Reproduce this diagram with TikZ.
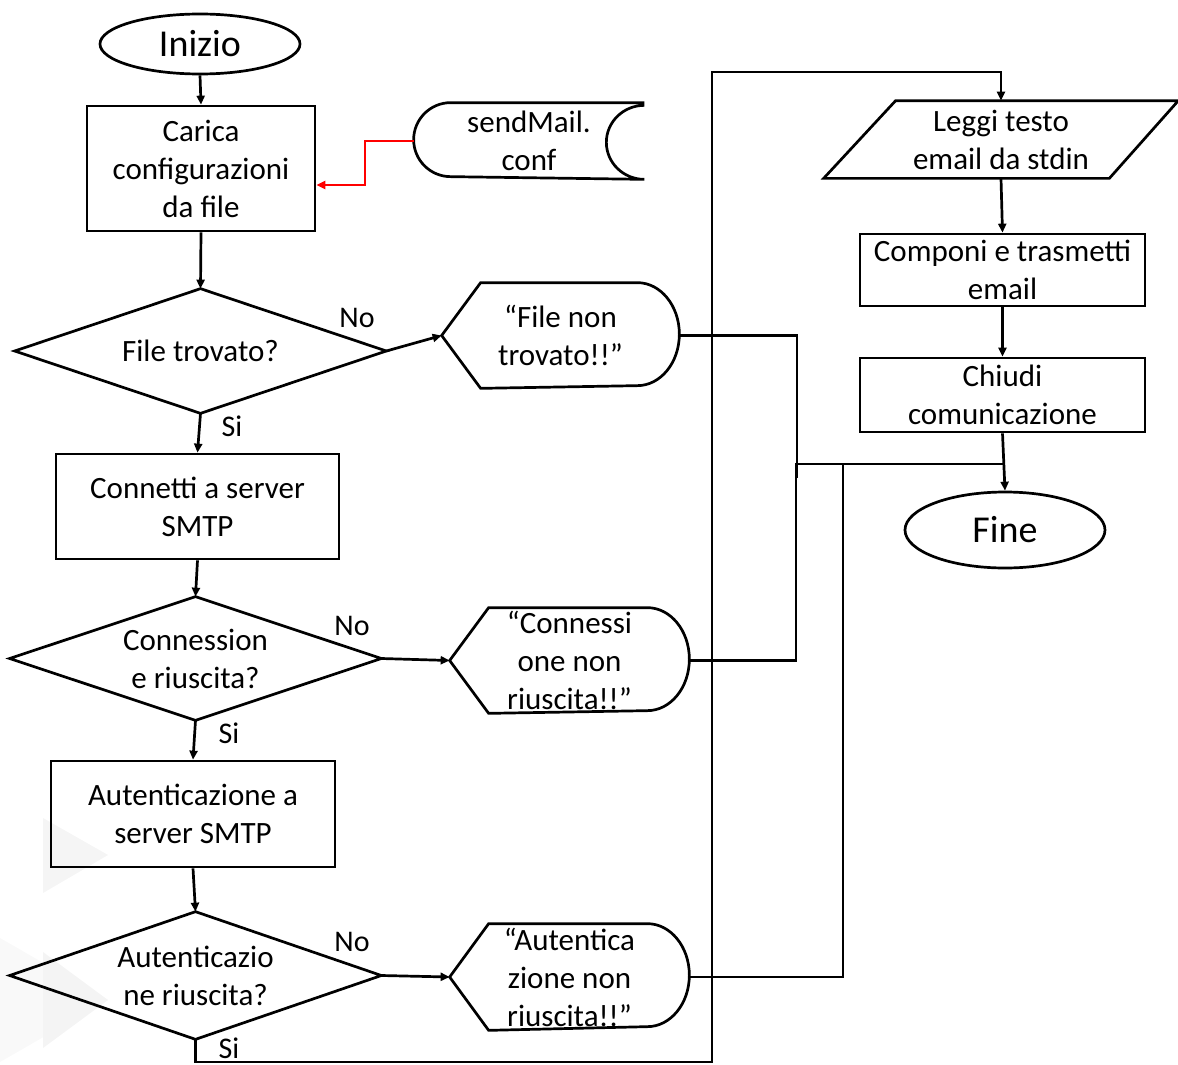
\documentclass[tikz,border=0pt]{standalone}
\usepackage{fontspec}
\setmainfont{Carlito}
\usetikzlibrary{shapes.geometric,arrows.meta,calc}

% outline of a "display" symbol around a plain node
\newcommand\dispout[1]{%
  \draw (#1.west) -- ([xshift=39pt]#1.north west) -- ([xshift=-42pt]#1.north east)
    arc[start angle=90,end angle=-90,x radius=42pt,y radius=51.5pt]
    -- ([xshift=39pt]#1.south west) -- cycle;}
% outline of a decision diamond around a plain node
\newcommand\decout[1]{%
  \draw (#1.west) -- (#1.north) -- (#1.east) -- (#1.south) -- cycle;}

\begin{document}
\begin{tikzpicture}[x=1pt,y=-1pt,line width=2.7pt,
  base/.style={inner sep=0pt,align=center,font=\fontsize{31}{38}\selectfont},
  box/.style={base,draw,rectangle},
  outl/.style={base},
  term/.style={base,draw,ellipse,font=\fontsize{38}{44}\selectfont},
  lbl/.style={inner sep=0pt,font=\fontsize{30}{36}\selectfont},
  arr/.style={-{Triangle[length=9pt,width=8pt]}},
]
\useasboundingbox (0,0) rectangle (1178,1065);

% faint watermark triangles
\fill[gray!8] (43,818) -- (43,893) -- (108,855) -- cycle;
\fill[gray!5] (0,938) -- (0,1062) -- (108,1000) -- cycle;
\fill[gray!9] (43,952) -- (43,1048) -- (108,1000) -- cycle;

% left column
\node[term,minimum width=200pt,minimum height=60pt] (ini) at (200,44) {Inizio};
\node[box,minimum width=228pt,minimum height=125pt] (car) at (201,168.5) {Carica\\configurazioni\\da file};
\node[outl,minimum width=228pt,minimum height=74pt] (sm) at (529,141) {sendMail.\\conf};
\draw (sm.north east) -- ([xshift=37pt]sm.north west)
  arc[start angle=90,end angle=270,x radius=37pt,y radius=37pt]
  -- (sm.south east)
  arc[start angle=270,end angle=90,x radius=38pt,y radius=37pt];

\node[outl,minimum width=369pt,minimum height=122pt] (q1) at (200.5,351) {File trovato?};
\decout{q1}
\node[outl,minimum width=235pt,minimum height=103pt] (d1) at (560.5,335.5) {“File non\\trovato!!”};
\dispout{d1}

\node[box,minimum width=283pt,minimum height=105pt] (con) at (197.5,506.5) {Connetti a server\\SMTP};
\node[outl,minimum width=369pt,minimum height=121pt] (q2) at (195.5,658.5) {Connession\\e riuscita?};
\decout{q2}
\node[outl,minimum width=237pt,minimum height=103pt] (d2) at (569.5,660.5) {“Connessi\\one non\\riuscita!!”};
\dispout{d2}

\node[box,minimum width=284pt,minimum height=106pt] (aut) at (193,814) {Autenticazione a\\server SMTP};
\node[outl,minimum width=369pt,minimum height=125pt] (q3) at (195.5,975.5) {Autenticazio\\ne riuscita?};
\decout{q3}
\node[outl,minimum width=237pt,minimum height=104pt] (d3) at (569.5,977) {“Autentica\\zione non\\riuscita!!”};
\dispout{d3}

% right column
\node[outl,minimum width=352pt,minimum height=75pt] (leg) at (1001,139.5) {Leggi testo\\email da stdin};
\draw ([xshift=72pt]leg.north west) -- (leg.north east) -- ([xshift=-69pt]leg.south east) -- (leg.south west) -- cycle;
\node[box,minimum width=285pt,minimum height=72pt] (cmp) at (1002.5,270) {Componi e trasmetti\\email};
\node[box,minimum width=285pt,minimum height=74pt] (chi) at (1002.5,395) {Chiudi\\comunicazione};
\node[term,minimum width=200pt,minimum height=76pt] (fin) at (1005,530) {Fine};

% branch labels
\node[lbl] (no1) at (357,318) {No};
\node[lbl] (si1) at (232,426) {Si};
\node[lbl] (no2) at (352,626) {No};
\node[lbl] (si2) at (229,733) {Si};
\node[lbl] (no3) at (352,942) {No};
\node[lbl] (si3) at (229,1048) {Si};

% junction points
\coordinate (rb) at (365,141);
\coordinate (j1) at (797,478);
\coordinate (j2) at (796,464);
\coordinate (j3) at (843,464);
\coordinate (lb) at (712,1062);
\coordinate (lt) at (712,72);

% main flow
\draw[arr] (ini.south) -- (car.north);
\draw[arr,red] (sm.west) -- (rb) |- ($(car.east)+(0,16.5)$);
\draw[arr] (car.south) -- (q1.north);
\draw[arr] (q1.east) -- (d1.west);
\draw[arr] (q1.south) -- (con.north);
\draw[arr] (con.south) -- (q2.north);
\draw[arr] (q2.east) -- (d2.west);
\draw[arr] (q2.south) -- (aut.north);
\draw[arr] (aut.south) -- (q3.north);
\draw[arr] (q3.east) -- (d3.west);
\draw[arr] (q3.south) |- (lb) -- (lt) -| (leg.north);
\draw[arr] (leg.south) -- (cmp.north);
\draw[arr] (cmp.south) -- (chi.north);
\draw[arr] (chi.south) -- (fin.north);

% error exits joining towards the end
\draw (d1.east) -| (j1);
\draw (d2.east) -| (j2) -- (j2 -| chi.south);
\draw (d3.east) -| (j3);
\end{tikzpicture}
\end{document}
